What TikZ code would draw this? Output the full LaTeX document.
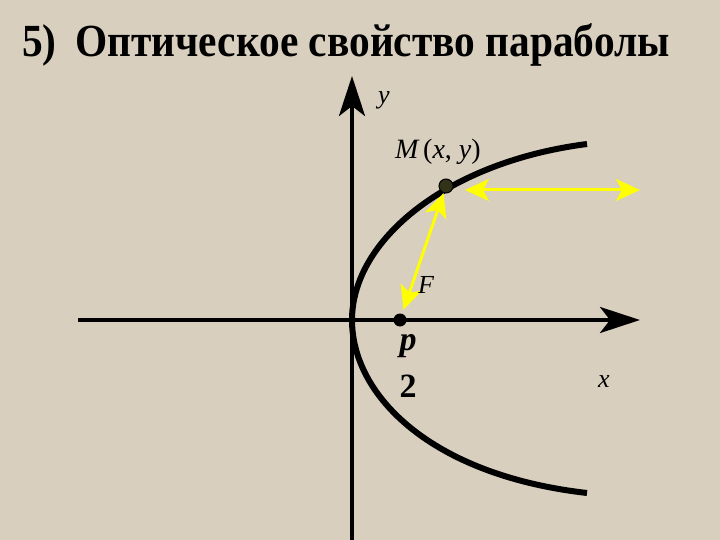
\documentclass[tikz,border=0pt]{standalone}
\usepackage{fontspec}
\setmainfont{Liberation Serif}
\usetikzlibrary{arrows.meta}
\definecolor{bg}{RGB}{216,207,191}
\definecolor{ray}{RGB}{255,255,0}
\definecolor{dotfill}{RGB}{50,50,25}
\begin{document}
\begin{tikzpicture}[x=1pt,y=-1pt,
  axis/.style={line width=4pt,-{Stealth[length=40pt,width=26pt,inset=10pt]}},
  curve/.style={line width=6pt},
  rayarrow/.style={ray,line width=3pt,{Stealth[length=24pt,width=22pt,inset=6pt]}-{Stealth[length=24pt,width=22pt,inset=6pt]}},
  lbl/.style={font=\fontsize{26}{30}\selectfont\itshape,inner sep=0pt,anchor=base west},
  frac/.style={font=\fontsize{34}{38}\selectfont\bfseries,inner sep=0pt,anchor=base}]
\fill[bg] (0,0) rectangle (720,540);
\useasboundingbox (0,0) rectangle (720,540);
\node[anchor=base west,inner sep=0pt] (title) at (22,57)
  {\fontsize{46}{50}\selectfont\bfseries\scalebox{0.9}[1]{5)\hspace{0.45em}Оптическое свойство параболы}};
\coordinate (ybot) at (352,540);
\coordinate (ytop) at (352,76);
\coordinate (xl) at (78,320);
\coordinate (xr) at (640,320);
\coordinate (V) at (352,320);
\coordinate (Ptop) at (587,144);
\coordinate (Pbot) at (587,493);
\draw[axis] (ybot) -- (ytop);
\draw[axis] (xl) -- (xr);
\draw[curve,line cap=butt] (Ptop) .. controls (447,162) and (352,240) .. (V)
  .. controls (352,395) and (430,475) .. (Pbot);
\node[circle,fill=black,inner sep=0pt,minimum size=13pt] (F) at (400,320) {};
\node[circle,draw=black,line width=1pt,fill=dotfill,inner sep=0pt,minimum size=14pt] (M) at (446,186) {};
\coordinate (Mr) at (465,190);
\coordinate (R) at (640,190);
\draw[rayarrow] (Mr) -- (R);
\draw[rayarrow,shorten <=4pt] (F) -- (M);
\node[lbl] (ylbl) at (378,104) {y};
\node[lbl] (xlbl) at (598,387) {x};
\node[lbl,font=\fontsize{28}{32}\selectfont\itshape] (Mlbl) at (395,159) {M\,\upshape(\itshape x\upshape, \itshape y\upshape)};
\node[lbl] (Flbl) at (418,293) {F};
\node[frac,font=\fontsize{34}{38}\selectfont\bfseries\itshape] (p) at (408,350) {p};
\node[frac] (two) at (408,397) {2};
\end{tikzpicture}
\end{document}
